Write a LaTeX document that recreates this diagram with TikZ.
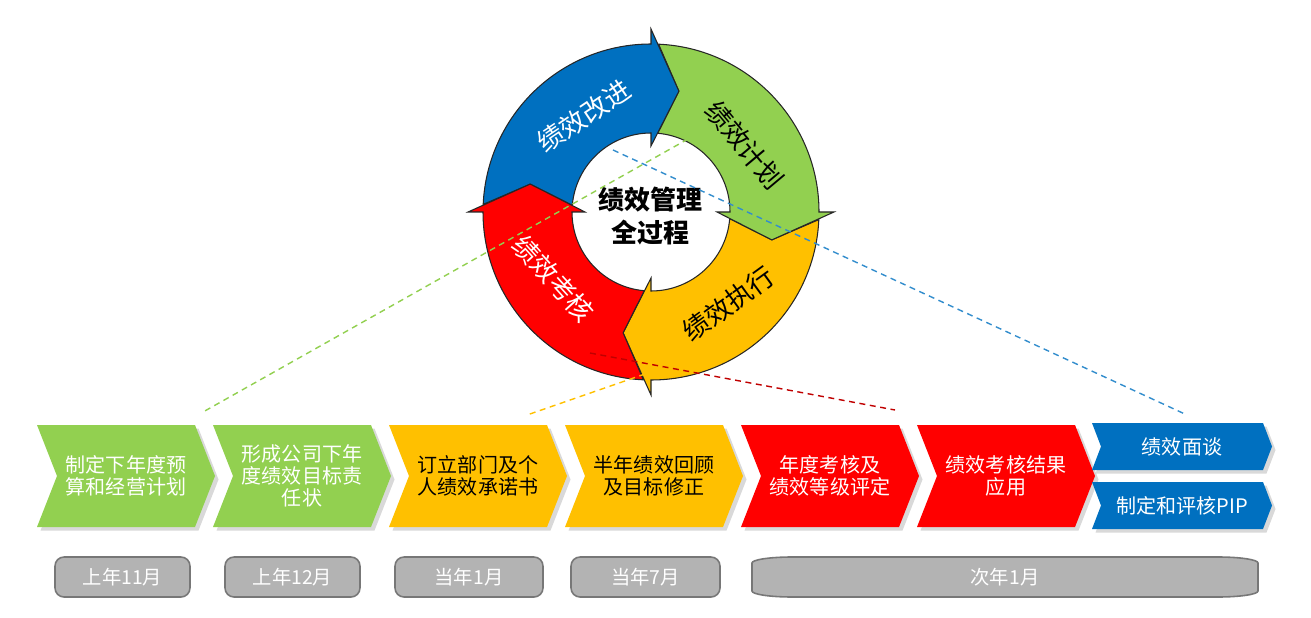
\documentclass[tikz,border=0pt]{standalone}
\usepackage{fontspec}
\setmainfont{Noto Sans CJK SC}
\usepackage{tikz}
\usetikzlibrary{shadows}
\definecolor{cgreen}{HTML}{92D050}
\definecolor{cyellow}{HTML}{FFC000}
\definecolor{cred}{HTML}{FF0000}
\definecolor{cblue}{HTML}{0070C0}
\definecolor{cdarkred}{HTML}{C00000}
\definecolor{cgray}{HTML}{B3B3B3}
\definecolor{cgrayline}{HTML}{777777}
\tikzset{font=\fontsize{11.4}{12.6}\selectfont}
\tikzset{
  ringarrow/.style={draw=black!85, line width=0.6pt, line join=miter},
  ringlabel/.style={font=\fontsize{15}{18}\selectfont, inner sep=0pt},
  chev/.style={drop shadow={shadow xshift=2pt, shadow yshift=-2pt, opacity=0.3}},
  chevtext/.style={align=center, inner sep=0pt},
  dateline/.style={draw=cgrayline, fill=cgray, line width=0.9pt},
  datebox/.style={dateline, rounded corners=0.18cm, minimum height=0.8cm, text=white, font=\fontsize{11}{13}\selectfont},
  datetext/.style={text=white, font=\fontsize{11}{13}\selectfont, inner sep=0pt},
  dashline/.style={line width=0.8pt, dash pattern=on 3.4pt off 2.6pt}
}

\begin{document}
\begin{tikzpicture}[x=0.02cm, y=0.02cm]
  \useasboundingbox (0,0) rectangle (1311,-618);

  % the cycle
  \begin{scope}[shift={(651,-212)}]
    \foreach \a/\col in {0/cyellow, 90/cgreen, 180/cblue, -90/cred}{
      \draw[ringarrow, fill=\col] (\a-2.6:168)
        arc[start angle=\a-2.6, end angle=\a-90, radius=168]
        -- (\a-90:183) -- (\a-103:124) -- (\a-90:66) -- (\a-90:79)
        arc[start angle=\a-90, end angle=\a-4.9, radius=79]
        -- (\a-13:124) -- cycle;
    };
    \node[ringlabel, text=white, rotate=34] (improve) at (125:117) {绩效改进};
    \node[ringlabel, text=black, rotate=-50] (plan) at (35.5:115) {绩效计划};
    \node[ringlabel, text=black, rotate=36] (execute) at (-49.7:120) {绩效执行};
    \node[ringlabel, text=white, rotate=-48] (check) at (214.4:118) {绩效考核};
    \node[font=\bfseries\fontsize{14.8}{18.5}\selectfont, align=center, inner sep=0pt] (core) at (-1,-4) {绩效管理\\全过程};
  \end{scope}

  % dashed guides
  \coordinate (gTop) at (688,-139);  \coordinate (gBot) at (203,-412);
  \coordinate (bTop) at (613,-150);  \coordinate (bBot) at (1187,-415);
  \coordinate (yTop) at (645,-374);  \coordinate (yBot) at (527,-415);
  \coordinate (rTop) at (590,-353);  \coordinate (rBot) at (895,-410);
  \draw[dashline, cgreen] (gTop) -- (gBot);
  \draw[dashline, cblue!80!white] (bTop) -- (bBot);
  \draw[dashline, cyellow] (yTop) -- (yBot);
  \draw[dashline, cdarkred] (rTop) -- (rBot);

  % process steps
  \foreach \x/\col/\tc/\txt/\n in {
     37/cgreen/white/{制定下年度预\\算和经营计划}/step1,
    213/cgreen/white/{形成公司下年\\度绩效目标责\\任状}/step2,
    389/cyellow/black/{订立部门及个\\人绩效承诺书}/step3,
    565/cyellow/black/{半年绩效回顾\\及目标修正}/step4,
    741/cred/white/{年度考核及\\绩效等级评定}/step5,
    917/cred/white/{绩效考核结果\\应用}/step6}{
    \fill[\col, chev] (\x,-425) -- ++(158,0) -- ++(20,-51) -- ++(-20,-51)
      -- ++(-158,0) -- ++(20,51) -- cycle;
    \node[chevtext, text=\tc] (\n) at (\x+89,-476) {\txt};
  };
  \foreach \y/\txt/\n in {423/绩效面谈/talk, 482/制定和评核PIP/pip}{
    \fill[cblue, chev] (1092,-\y) -- ++(171,0) -- ++(9,-23.5) -- ++(-9,-23.5)
      -- ++(-171,0) -- ++(9,23.5) -- cycle;
    \node[chevtext, text=white] (\n) at (1182,-\y-23.5) {\txt};
  };

  % time line
  \foreach \cx/\w/\txt/\n in {122.5/2.7/上年11月/date1, 292.5/2.7/上年12月/date2,
                              469/2.96/当年1月/date3, 645.5/2.98/当年7月/date4}{
    \node[datebox, minimum width=\w cm] (\n) at (\cx,-577) {\txt};
  };
  \draw[dateline] (752,-563) -- (752,-591)
    arc[start angle=180, end angle=270, x radius=40, y radius=6] -- (1218,-597)
    arc[start angle=270, end angle=360, x radius=40, y radius=6] -- (1258,-563)
    arc[start angle=0, end angle=90, x radius=40, y radius=6] -- (792,-557)
    arc[start angle=90, end angle=180, x radius=40, y radius=6] -- cycle;
  \node[datetext] (date5) at (1005,-577) {次年1月};
\end{tikzpicture}
\end{document}
